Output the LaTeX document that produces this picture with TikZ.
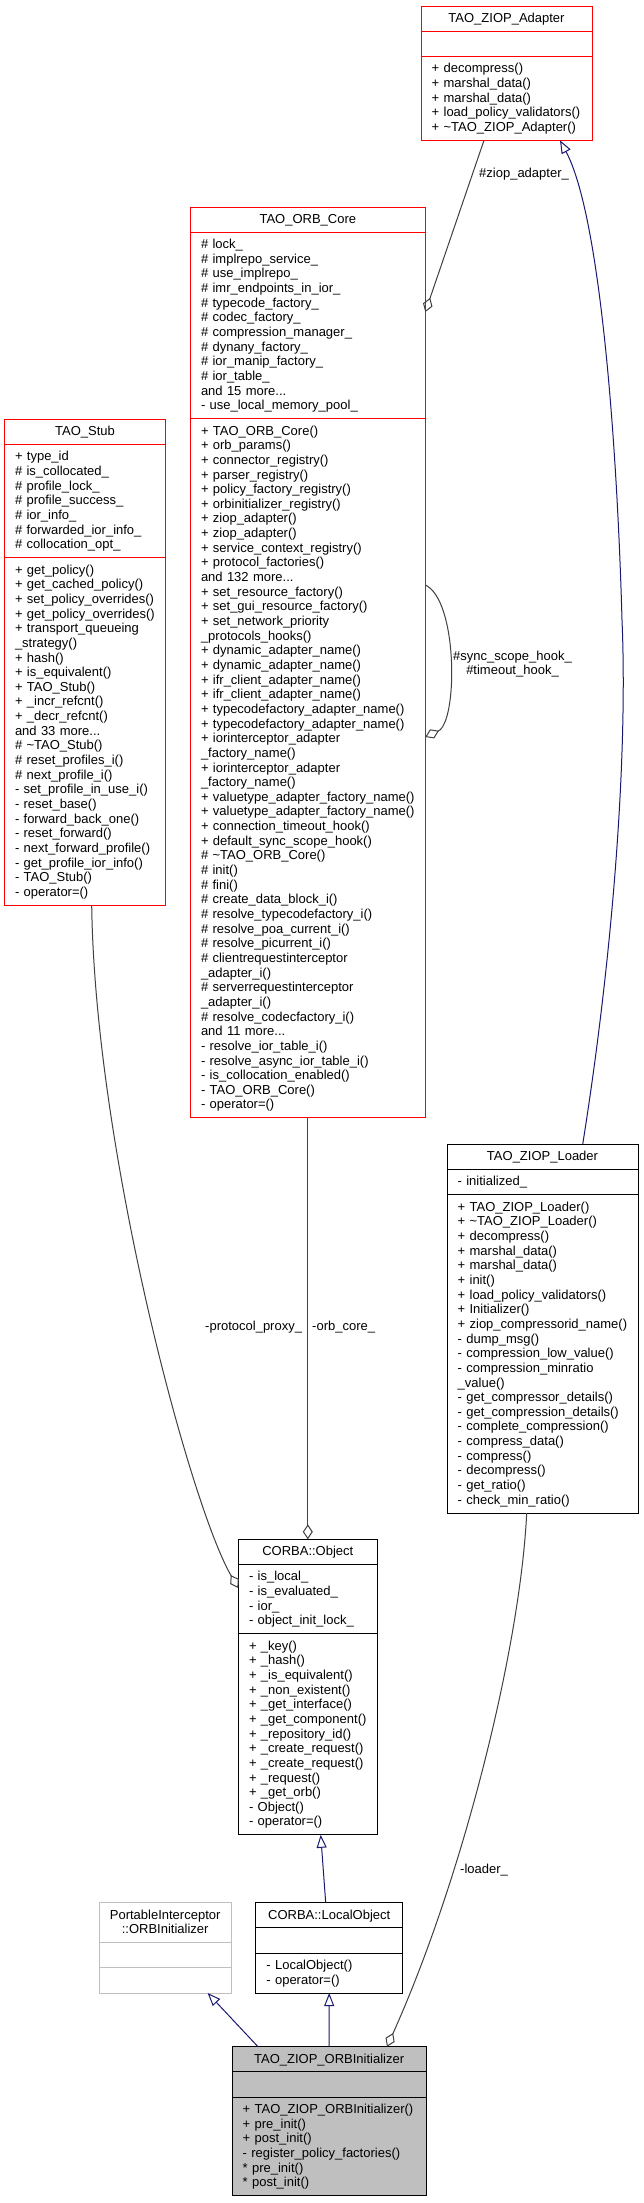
\documentclass[tikz,border=0pt]{standalone}
\usepackage{fontspec}
\setmainfont{Liberation Sans}
\usetikzlibrary{arrows.meta}
\definecolor{edgegray}{HTML}{404040}
\definecolor{inhblue}{HTML}{191970}
\definecolor{greyfill}{HTML}{BFBFBF}
\newcommand\cfs{\fontsize{13}{14.65}\selectfont}
\tikzset{
  box/.style={draw, line width=1pt, inner sep=0pt, outer sep=0pt, anchor=north west},
  redbox/.style={box, draw=red},
  blkbox/.style={box, draw=black},
  graybox/.style={box, draw=greyfill},
  fillbox/.style={box, draw=black, fill=greyfill},
  sepl/.style={line width=1pt},
  mem/.style={inner sep=0pt, anchor=base west, align=left, text width=240pt, font=\cfs},
  hdr/.style={inner sep=0pt, anchor=base, font=\cfs},
  lbl/.style={inner sep=0pt, anchor=base west, font=\cfs},
  lblc/.style={inner sep=0pt, anchor=base, font=\cfs},
  agg/.style={draw=edgegray, line width=1pt, -{Diamond[open, length=15pt, width=10pt]}},
  inh/.style={draw=inhblue, line width=1pt, -{Triangle[open, length=13pt, width=10pt]}},
}
\newcommand\cbox[6]{\node[#2, minimum width={#5-#3}, minimum height={#6-#4}] (#1) at (#3,#4) {};}
\begin{document}
\catcode`\_=12
\begin{tikzpicture}[x=1pt,y=-1pt]
\path[use as bounding box, fill=white] (0,0) rectangle (644,2203);

% ---------------- TAO_ZIOP_Adapter
\cbox{adp}{redbox}{421}{6}{592}{140.35}
\draw[sepl, red] (421,31.25) -- (592,31.25);
\draw[sepl, red] (421,56.5) -- (592,56.5);
\node[hdr] (adph) at (506.5,22.4) {TAO_ZIOP_Adapter};
\node[mem] (adpm) at (431.5,72.9) {+ decompress()\\+ marshal_data()\\+ marshal_data()\\+ load_policy_validators()\\+ \textasciitilde TAO_ZIOP_Adapter()};

% ---------------- TAO_ORB_Core
\cbox{orb}{redbox}{190.3}{207}{425.3}{1117.8}
\draw[sepl, red] (190.3,232.25) -- (425.3,232.25);
\draw[sepl, red] (190.3,418.65) -- (425.3,418.65);
\node[hdr] (orbh) at (307.8,223.4) {TAO_ORB_Core};
\node[mem] (orba) at (200.8,248.65) {\# lock_\\\# implrepo_service_\\\# use_implrepo_\\\# imr_endpoints_in_ior_\\\# typecode_factory_\\\# codec_factory_\\\# compression_manager_\\\# dynany_factory_\\\# ior_manip_factory_\\\# ior_table_\\and 15 more...\\- use_local_memory_pool_};
\node[mem] (orbm) at (200.8,435.05) {+ TAO_ORB_Core()\\+ orb_params()\\+ connector_registry()\\+ parser_registry()\\+ policy_factory_registry()\\+ orbinitializer_registry()\\+ ziop_adapter()\\+ ziop_adapter()\\+ service_context_registry()\\+ protocol_factories()\\and 132 more...\\+ set_resource_factory()\\+ set_gui_resource_factory()\\+ set_network_priority\\_protocols_hooks()\\+ dynamic_adapter_name()\\+ dynamic_adapter_name()\\+ ifr_client_adapter_name()\\+ ifr_client_adapter_name()\\+ typecodefactory_adapter_name()\\+ typecodefactory_adapter_name()\\+ iorinterceptor_adapter\\_factory_name()\\+ iorinterceptor_adapter\\_factory_name()\\+ valuetype_adapter_factory_name()\\+ valuetype_adapter_factory_name()\\+ connection_timeout_hook()\\+ default_sync_scope_hook()\\\# \textasciitilde TAO_ORB_Core()\\\# init()\\\# fini()\\\# create_data_block_i()\\\# resolve_typecodefactory_i()\\\# resolve_poa_current_i()\\\# resolve_picurrent_i()\\\# clientrequestinterceptor\\_adapter_i()\\\# serverrequestinterceptor\\_adapter_i()\\\# resolve_codecfactory_i()\\and 11 more...\\- resolve_ior_table_i()\\- resolve_async_ior_table_i()\\- is_collocation_enabled()\\- TAO_ORB_Core()\\- operator=()};

% ---------------- TAO_Stub
\cbox{stub}{redbox}{4.3}{419.3}{165.7}{905.25}
\draw[sepl, red] (4.3,444.55) -- (165.7,444.55);
\draw[sepl, red] (4.3,557.7) -- (165.7,557.7);
\node[hdr] (stubh) at (85,435.7) {TAO_Stub};
\node[mem] (stuba) at (14.8,460.95) {+ type_id\\\# is_collocated_\\\# profile_lock_\\\# profile_success_\\\# ior_info_\\\# forwarded_ior_info_\\\# collocation_opt_};
\node[mem] (stubm) at (14.8,574.1) {+ get_policy()\\+ get_cached_policy()\\+ set_policy_overrides()\\+ get_policy_overrides()\\+ transport_queueing\\_strategy()\\+ hash()\\+ is_equivalent()\\+ TAO_Stub()\\+ _incr_refcnt()\\+ _decr_refcnt()\\and 33 more...\\\# \textasciitilde TAO_Stub()\\\# reset_profiles_i()\\\# next_profile_i()\\- set_profile_in_use_i()\\- reset_base()\\- forward_back_one()\\- reset_forward()\\- next_forward_profile()\\- get_profile_ior_info()\\- TAO_Stub()\\- operator=()};

% ---------------- TAO_ZIOP_Loader
\cbox{ldr}{blkbox}{447}{1144.3}{638}{1513.05}
\draw[sepl] (447,1169.55) -- (638,1169.55);
\draw[sepl] (447,1194.8) -- (638,1194.8);
\node[hdr] (ldrh) at (542.5,1160.7) {TAO_ZIOP_Loader};
\node[mem] (ldra) at (457.5,1185.95) {- initialized_};
\node[mem] (ldrm) at (457.5,1211.2) {+ TAO_ZIOP_Loader()\\+ \textasciitilde TAO_ZIOP_Loader()\\+ decompress()\\+ marshal_data()\\+ marshal_data()\\+ init()\\+ load_policy_validators()\\+ Initializer()\\+ ziop_compressorid_name()\\- dump_msg()\\- compression_low_value()\\- compression_minratio\\_value()\\- get_compressor_details()\\- get_compression_details()\\- complete_compression()\\- compress_data()\\- compress()\\- decompress()\\- get_ratio()\\- check_min_ratio()};

% ---------------- CORBA::Object
\cbox{obj}{blkbox}{238.3}{1539.3}{377.3}{1834.8}
\draw[sepl] (238.3,1564.55) -- (377.3,1564.55);
\draw[sepl] (238.3,1633.75) -- (377.3,1633.75);
\node[hdr] (objh) at (307.8,1555.7) {CORBA::Object};
\node[mem] (obja) at (248.8,1580.95) {- is_local_\\- is_evaluated_\\- ior_\\- object_init_lock_};
\node[mem] (objm) at (248.8,1650.15) {+ _key()\\+ _hash()\\+ _is_equivalent()\\+ _non_existent()\\+ _get_interface()\\+ _get_component()\\+ _repository_id()\\+ _create_request()\\+ _create_request()\\+ _request()\\+ _get_orb()\\- Object()\\- operator=()};

% ---------------- CORBA::LocalObject
\cbox{lobj}{blkbox}{255.7}{1902.6}{402.7}{1993}
\draw[sepl] (255.7,1927.85) -- (402.7,1927.85);
\draw[sepl] (255.7,1953.1) -- (402.7,1953.1);
\node[hdr] (lobjh) at (329.2,1919) {CORBA::LocalObject};
\node[mem] (lobjm) at (266.2,1969.5) {- LocalObject()\\- operator=()};

% ---------------- PortableInterceptor::ORBInitializer
\cbox{pii}{graybox}{99}{1902.6}{231.3}{1993}
\draw[sepl, greyfill] (99,1942.5) -- (231.3,1942.5);
\draw[sepl, greyfill] (99,1967.75) -- (231.3,1967.75);
\node[hdr] (piih1) at (165.15,1919) {PortableInterceptor};
\node[hdr] (piih2) at (165.15,1933.65) {::ORBInitializer};

% ---------------- TAO_ZIOP_ORBInitializer
\cbox{zoi}{fillbox}{232}{2046.7}{426.3}{2195.7}
\draw[sepl] (232,2071.95) -- (426.3,2071.95);
\draw[sepl] (232,2097.2) -- (426.3,2097.2);
\node[hdr] (zoih) at (329.15,2063.1) {TAO_ZIOP_ORBInitializer};
\node[mem] (zoim) at (242.5,2113.6) {+ TAO_ZIOP_ORBInitializer()\\+ pre_init()\\+ post_init()\\- register_policy_factories()\\{*} pre_init()\\{*} post_init()};

% ---------------- connectors
\draw[agg] ([xshift=-22.5pt]adp.south) -- ([yshift=-105pt]orb.north east);
\node[lbl] (lzadp) at (479,177.5) {\#ziop_adapter_};

\draw[agg] ([yshift=-378pt]orb.north east) .. controls (458,600) and (458,722) .. ([yshift=-530pt]orb.north east);
\node[lblc] (lsync) at (512.5,660) {\#sync_scope_hook_};
\node[lblc] (ltime) at (512.5,674.65) {\#timeout_hook_};

\draw[agg] (orb.south) -- (obj.north);
\node[lbl] (lorb) at (312,1330.5) {-orb_core_};

\draw[agg] ([xshift=6.7pt]stub.south) .. controls (95,1150) and (190,1505) .. ([yshift=-48.7pt]obj.north west);
\node[lbl] (lproto) at (205,1330.5) {-protocol_proxy_};

\draw[agg] ([xshift=-15.8pt]ldr.south) .. controls (520,1650) and (462,1880) .. ([xshift=155pt]zoi.north west);
\node[lbl] (lldr) at (460,1873) {-loader_};

\draw[inh] ([xshift=40.2pt]ldr.north) .. controls (612,960) and (628,760) .. (622,620) .. controls (617,440) and (600,215) .. ([xshift=53.5pt]adp.south);
\draw[inh] (zoi.north) -- (lobj.south);
\draw[inh] ([xshift=26pt]zoi.north west) -- ([xshift=42.5pt]pii.south);
\draw[inh] ([xshift=-3.5pt]lobj.north) -- ([xshift=12.9pt]obj.south);
\end{tikzpicture}
\end{document}
